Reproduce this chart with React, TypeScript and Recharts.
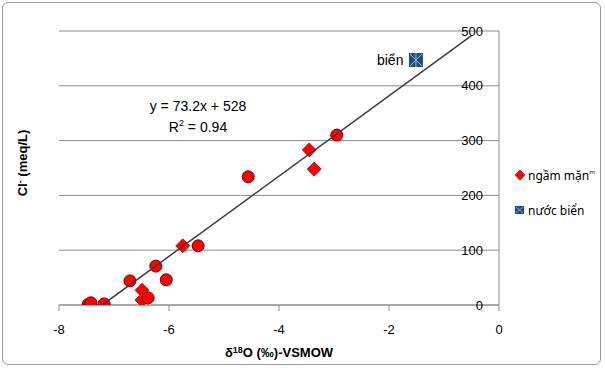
import { ScatterChart, Scatter, XAxis, YAxis, CartesianGrid, LabelList } from 'recharts';

// groundwater samples drawn as circles (not in legend)
const circleX = [-7.47, -7.42, -7.18, -6.71, -6.24, -6.05, -6.38, -5.47, -4.56, -2.95];
const circleY = [1, 4, 2, 44, 71, 46, 13, 108, 234, 310];

// "ngầm mặn" samples, diamonds
const diamondX = [-6.49, -6.49, -5.75, -3.45, -3.36];
const diamondY = [27, 9, 108, 283, 248];

// sea water
const seaX = [-1.51];
const seaY = [447];
const seaNames = ['biển'];

const xTicks = [-8, -6, -4, -2, 0];
const yTicks = [0, 100, 200, 300, 400, 500];

// trendline y = 73.2x + 528
const slope = 73.2;
const intercept = 528;
const trendX = [-7.2, -0.5];

const circles = circleX.map((x, i) => ({ x, y: circleY[i] }));
const diamonds = diamondX.map((x, i) => ({ x, y: diamondY[i] }));
const sea = seaX.map((x, i) => ({ x, y: seaY[i], name: seaNames[i] }));
const trend = trendX.map((x) => ({ x, y: slope * x + intercept }));

const FONT = '"Liberation Sans", Arial, sans-serif';

const RedCircle = (p: any) => (
  <circle cx={p.cx} cy={p.cy} r={6} fill="#ff0000" stroke="#6e0000" strokeWidth={1} />
);

const RedDiamond = (p: any) => (
  <path
    d={`M${p.cx},${p.cy - 7}L${p.cx + 7},${p.cy}L${p.cx},${p.cy + 7}L${p.cx - 7},${p.cy}Z`}
    fill="#ff0000"
    stroke="#b00000"
    strokeWidth={0.8}
  />
);

const SeaMark = (p: any) => (
  <g>
    <rect x={p.cx - 7} y={p.cy - 7} width={14} height={14} fill="#1f4e79" />
    <path
      d={`M${p.cx - 6},${p.cy - 6}L${p.cx + 6},${p.cy + 6}M${p.cx + 6},${p.cy - 6}L${p.cx - 6},${p.cy + 6}M${p.cx},${p.cy - 7}L${p.cx},${p.cy + 7}`}
      stroke="#8fb8e0"
      strokeWidth={1}
    />
  </g>
);

const NoDot = () => <g />;

export default function App() {
  return (
    <div style={{ position: 'relative', width: 605, height: 370, background: '#fff', fontFamily: FONT }}>
      <style>{`body{margin:0}`}</style>
      <div
        style={{
          position: 'absolute',
          left: 2,
          top: 2,
          width: 599,
          height: 363,
          border: '1px solid #9a9a9a',
          borderRadius: 6,
          boxSizing: 'border-box'
        }}
      />
      <ScatterChart width={605} height={370} margin={{ top: 31, right: 106, bottom: 35, left: 59 }}>
        <CartesianGrid vertical={false} stroke="#8c8c8c" strokeWidth={1} />
        <XAxis
          type="number"
          dataKey="x"
          domain={[-8, 0]}
          ticks={xTicks}
          stroke="#8c8c8c"
          tick={{ fill: '#000', fontSize: 13, fontFamily: FONT }}
          tickSize={6}
          tickMargin={14}
          allowDataOverflow
        />
        <YAxis
          type="number"
          dataKey="y"
          orientation="right"
          mirror
          domain={[0, 500]}
          ticks={yTicks}
          stroke="#8c8c8c"
          tickLine={false}
          tickSize={6}
          tickMargin={10}
          tick={{ fill: '#000', fontSize: 13, fontFamily: FONT }}
          allowDataOverflow
        />
        <Scatter data={diamonds} shape={RedDiamond} isAnimationActive={false} />
        <Scatter data={circles} shape={RedCircle} isAnimationActive={false} />
        <Scatter data={sea} shape={SeaMark} isAnimationActive={false}>
          <LabelList dataKey="name" position="left" offset={8} fill="#000" fontSize={14} fontFamily={FONT} />
        </Scatter>
        <Scatter
          data={trend}
          shape={NoDot}
          line={{ stroke: '#3c3c3c', strokeWidth: 1.5 }}
          isAnimationActive={false}
        />
      </ScatterChart>

      {/* trendline equation */}
      <div style={{ position: 'absolute', left: 98, top: 96, width: 200, textAlign: 'center', fontSize: 14, lineHeight: '21px', color: '#000' }}>
        <div>y = 73.2x + 528</div>
        <div>
          R<sup style={{ fontSize: 9, verticalAlign: 'top', lineHeight: '12px' }}>2</sup> = 0.94
        </div>
      </div>

      {/* axis titles */}
      <div
        style={{
          position: 'absolute',
          left: 22,
          top: 163,
          transform: 'translate(-50%, -50%) rotate(-90deg)',
          whiteSpace: 'nowrap',
          fontSize: 13,
          fontWeight: 'bold'
        }}
      >
        Cl<sup style={{ fontSize: 9, verticalAlign: 'top', lineHeight: '10px' }}>-</sup> (meq/L)
      </div>
      <div
        style={{
          position: 'absolute',
          left: 279,
          top: 352,
          transform: 'translate(-50%, -50%)',
          whiteSpace: 'nowrap',
          fontSize: 13,
          fontWeight: 'bold'
        }}
      >
        δ<sup style={{ fontSize: 9, verticalAlign: 'top', lineHeight: '10px' }}>18</sup>O (‰)-VSMOW
      </div>

      {/* legend */}
      <div style={{ position: 'absolute', left: 515, top: 166, fontFamily: '"Noto Sans", sans-serif', fontSize: 12, color: '#000' }}>
        <div style={{ display: 'flex', alignItems: 'center', height: 18 }}>
          <svg width={10} height={10} style={{ marginRight: 3 }}>
            <path d="M5,0L10,5L5,10L0,5Z" fill="#ff0000" stroke="#b00000" strokeWidth={0.6} />
          </svg>
          ngầm mặn
          <span style={{ fontSize: 6, alignSelf: 'flex-start', marginTop: 2 }}>m</span>
        </div>
        <div style={{ display: 'flex', alignItems: 'center', height: 18, marginTop: 17 }}>
          <svg width={10} height={10} style={{ marginRight: 3 }}>
            <rect x={0} y={1} width={9} height={8} fill="#1f4e79" />
            <path d="M1,2L8,8M8,2L1,8" stroke="#8fb8e0" strokeWidth={0.8} />
          </svg>
          nước biển
        </div>
      </div>
    </div>
  );
}
